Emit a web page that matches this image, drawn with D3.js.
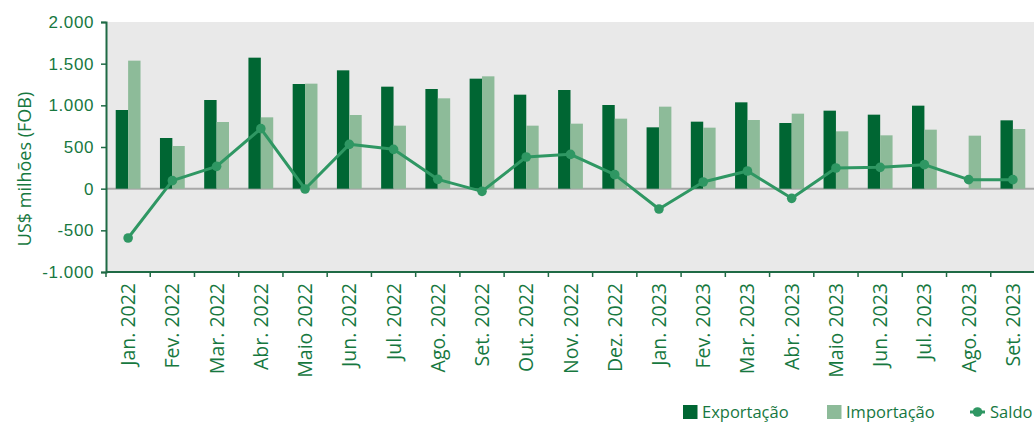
<!DOCTYPE html>
<html>
<head>
<meta charset="utf-8">
<script src="https://cdn.jsdelivr.net/npm/d3@7"></script>
<style>
  html, body { margin: 0; padding: 0; background: #ffffff; }
  svg { display: block; font-family: "Open Sans", sans-serif; }
</style>
</head>
<body>
<svg id="chart"></svg>
<script>
const months = ["Jan. 2022", "Fev. 2022", "Mar. 2022", "Abr. 2022", "Maio 2022", "Jun. 2022",
    "Jul. 2022", "Ago. 2022", "Set. 2022", "Out. 2022", "Nov. 2022", "Dez. 2022",
    "Jan. 2023", "Fev. 2023", "Mar. 2023", "Abr. 2023", "Maio 2023", "Jun. 2023",
    "Jul. 2023", "Ago. 2023", "Set. 2023"];
const exportacao = [944, 608, 1064, 1572, 1256, 1420, 1224, 1196, 1320, 1128, 1184, 1004,
    736, 804, 1036, 788, 936, 888, 996, null, 820];
const importacao = [1536, 512, 800, 856, 1260, 884, 756, 1084, 1348, 756, 780, 840,
    984, 732, 824, 900, 688, 640, 708, 636, 716];
const saldo = [-592, 96, 268, 720, -4, 532, 472, 112, -32, 380, 412, 168,
    -244, 80, 212, -116, 248, 256, 288, 108, 108];
const yTicks = [-1000, -500, 0, 500, 1000, 1500, 2000];
const legendItems = ["Exportação", "Importação", "Saldo"];

const W = 1034, H = 423;
const mLeft = 106, mRight = 1035, mTop = 22, mBottom = 272;

const cDark = "#006633", cLight = "#8dbb99", cLine = "#2f9763";
const cText = "#17783f", cAxis = "#1f6a45";

let svg = d3.select("#chart").attr("width", W).attr("height", H);

const x = d3.scaleBand().domain(months).range([mLeft, mRight]).padding(0);
const xSub = d3.scaleBand().domain(["exp", "imp"]).range([0, x.bandwidth()])
    .paddingInner(0).paddingOuter(0.784);
const y = d3.scaleLinear().domain([-1000, 2000]).range([mBottom, mTop]);

const loc = d3.formatLocale({ decimal: ",", thousands: ".", grouping: [3], currency: ["", ""], minus: "-" });
const fmt = loc.format(",");

// fundo
svg.append("rect")
    .attr("x", mLeft).attr("y", y(2000))
    .attr("width", mRight - mLeft).attr("height", y(-1000) - y(2000))
    .attr("fill", "#e9e9e9");

// linha do zero
svg.append("line")
    .attr("x1", mLeft).attr("x2", mRight)
    .attr("y1", y(0)).attr("y2", y(0))
    .attr("stroke", "#a8a8a8").attr("stroke-width", 2);

// barras
const rows = months.map((m, i) => ({ m, exp: exportacao[i], imp: importacao[i], saldo: saldo[i] }));

svg.append("g").selectAll("rect")
    .data(rows.filter(d => d.exp != null))
    .join("rect")
    .attr("x", d => x(d.m) + xSub("exp"))
    .attr("y", d => y(d.exp))
    .attr("width", xSub.bandwidth())
    .attr("height", d => y(0) - y(d.exp))
    .attr("fill", cDark);

svg.append("g").selectAll("rect")
    .data(rows.filter(d => d.imp != null))
    .join("rect")
    .attr("x", d => x(d.m) + xSub("imp"))
    .attr("y", d => y(d.imp))
    .attr("width", xSub.bandwidth())
    .attr("height", d => y(0) - y(d.imp))
    .attr("fill", cLight);

// saldo
const line = d3.line().x(d => x(d.m) + x.bandwidth() / 2).y(d => y(d.saldo));
svg.append("path")
    .datum(rows)
    .attr("d", line)
    .attr("fill", "none")
    .attr("stroke", cLine)
    .attr("stroke-width", 3)
    .attr("stroke-linejoin", "round");

svg.append("g").selectAll("circle")
    .data(rows)
    .join("circle")
    .attr("cx", d => x(d.m) + x.bandwidth() / 2)
    .attr("cy", d => y(d.saldo))
    .attr("r", 4.8)
    .attr("fill", cLine);

// eixo y
const yAxis = svg.append("g")
    .attr("transform", `translate(${mLeft},0)`)
    .call(d3.axisLeft(y).tickValues(yTicks).tickFormat(fmt).tickSize(5).tickPadding(7));
yAxis.select(".domain").attr("stroke", cAxis).attr("stroke-width", 2);
yAxis.selectAll(".tick line").attr("stroke", cAxis).attr("stroke-width", 1.5);
yAxis.selectAll(".tick text")
    .attr("fill", cText)
    .style("font-size", "17px")
    .style("letter-spacing", "0.6px");

// eixo x
svg.append("line")
    .attr("x1", mLeft).attr("x2", mRight)
    .attr("y1", mBottom).attr("y2", mBottom)
    .attr("stroke", cAxis).attr("stroke-width", 2);

svg.append("g").selectAll("line")
    .data(months)
    .join("line")
    .attr("x1", d => x(d)).attr("x2", d => x(d))
    .attr("y1", mBottom).attr("y2", mBottom + 5)
    .attr("stroke", cAxis).attr("stroke-width", 1.5);

svg.append("g").selectAll("text")
    .data(months)
    .join("text")
    .attr("transform", d => `translate(${x(d) + x.bandwidth() / 2 + 7},${mBottom + 11}) rotate(-90)`)
    .attr("text-anchor", "end")
    .attr("fill", cText)
    .style("font-size", "19.5px")
    .text(d => d);

// título do eixo y
svg.append("text")
    .attr("transform", `translate(31,${(mTop + mBottom) / 2 + 22}) rotate(-90)`)
    .attr("text-anchor", "middle")
    .attr("fill", cText)
    .style("font-size", "18px")
    .text("US$ milhões (FOB)");

// legenda
const legend = svg.append("g");
const lx = [683, 827, 970];

legend.append("rect").attr("x", lx[0]).attr("y", 405).attr("width", 14.5).attr("height", 14).attr("fill", cDark);
legend.append("rect").attr("x", lx[1]).attr("y", 405).attr("width", 14.5).attr("height", 14).attr("fill", cLight);
legend.append("line").attr("x1", lx[2]).attr("x2", lx[2] + 15).attr("y1", 412).attr("y2", 412)
    .attr("stroke", cLine).attr("stroke-width", 3);
legend.append("circle").attr("cx", lx[2] + 7.5).attr("cy", 412).attr("r", 4.8).attr("fill", cLine);

legend.selectAll("text")
    .data(legendItems)
    .join("text")
    .attr("x", (d, i) => lx[i] + (i < 2 ? 19 : 20))
    .attr("y", 418)
    .attr("fill", cText)
    .style("font-size", "16.5px")
    .text(d => d);
</script>
</body>
</html>
